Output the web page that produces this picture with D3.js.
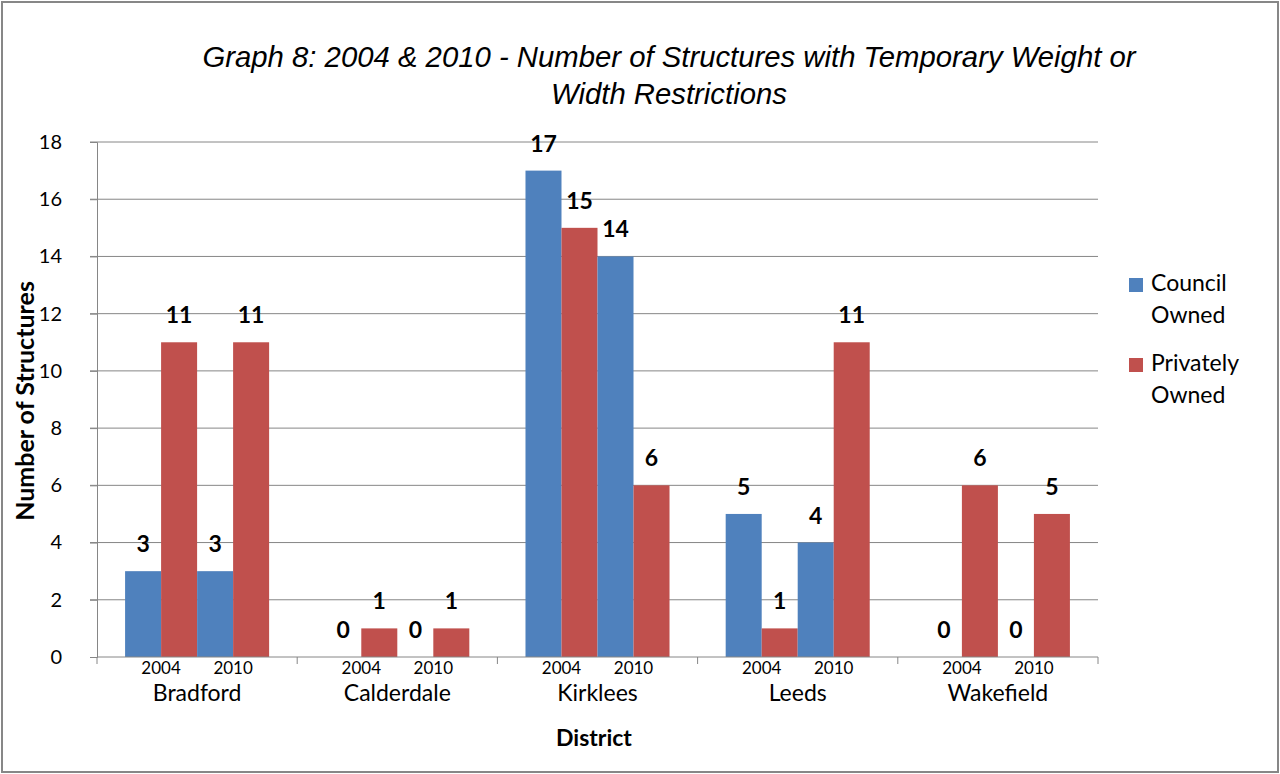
<!DOCTYPE html>
<html>
<head>
<meta charset="utf-8">
<script src="https://cdn.jsdelivr.net/npm/d3@7"></script>
<style>
  html, body { margin: 0; padding: 0; background: #fff; }
  svg { display: block; }
</style>
</head>
<body>
<svg id="chart" width="1280" height="774"></svg>
<script>
// Districts and survey years along the x axis
const districts = ["Bradford", "Calderdale", "Kirklees", "Leeds", "Wakefield"];
const years = ["2004", "2010"];
const seriesNames = ["Council Owned", "Privately Owned"];

// Number of structures per district
const council2004 = [3, 0, 17, 5, 0];
const private2004 = [11, 1, 15, 1, 6];
const council2010 = [3, 0, 14, 4, 0];
const private2010 = [11, 1, 6, 11, 5];

const yTicks = [0, 2, 4, 6, 8, 10, 12, 14, 16, 18];

const titleLines = [
  "Graph 8: 2004 & 2010 - Number of Structures with Temporary Weight or",
  "Width Restrictions"
];

const colors = { council: "#4F81BD", private: "#C0504D" };
const bodyFont = "Lato, 'Open Sans', sans-serif";

const svg = d3.select("#chart");
const W = 1280, H = 774;
const plot = { left: 97, right: 1098, top: 142, bottom: 657 };

// outer frame
svg.append("rect")
  .attr("x", 2).attr("y", 2).attr("width", W - 4).attr("height", H - 4)
  .attr("fill", "#fff").attr("stroke", "#878787").attr("stroke-width", 2);

// title
svg.append("g").selectAll("text").data(titleLines).join("text")
  .attr("x", 669).attr("y", (d, i) => 67 + i * 37)
  .attr("text-anchor", "middle")
  .attr("font-family", "'Liberation Sans', Arial, sans-serif")
  .attr("font-style", "italic")
  .attr("font-size", 29.3)
  .attr("fill", "#000")
  .text(d => d);

// scales
const y = d3.scaleLinear().domain([0, 18]).range([plot.bottom, plot.top]);
const x0 = d3.scaleBand().domain(districts).range([plot.left, plot.right]).padding(0);
const barKeys = ["c2004", "p2004", "c2010", "p2010"];
const x1 = d3.scaleBand().domain(barKeys).range([0, x0.bandwidth()])
  .paddingInner(0).paddingOuter(0.78);

// gridlines
const grid = svg.append("g");
grid.selectAll("line").data(yTicks.filter(t => t > 0)).join("line")
  .attr("x1", plot.left - 7).attr("x2", plot.right)
  .attr("y1", d => y(d)).attr("y2", d => y(d))
  .attr("stroke", "#868686").attr("stroke-width", 1);

// y axis
const yAxis = svg.append("g").attr("transform", `translate(${plot.left},0)`)
  .call(d3.axisLeft(y).tickValues(yTicks).tickSize(7).tickPadding(9).tickFormat(d3.format("d")));
yAxis.select(".domain").attr("stroke", "#868686");
yAxis.selectAll(".tick line").attr("stroke", "#868686");
yAxis.selectAll(".tick text")
  .attr("font-family", bodyFont).attr("font-size", 20).attr("fill", "#000")
  .attr("x", -35);

// bar records
const bars = [];
districts.forEach((d, i) => {
  bars.push({ district: d, key: "c2004", series: "council", value: council2004[i] });
  bars.push({ district: d, key: "p2004", series: "private", value: private2004[i] });
  bars.push({ district: d, key: "c2010", series: "council", value: council2010[i] });
  bars.push({ district: d, key: "p2010", series: "private", value: private2010[i] });
});

svg.append("g").selectAll("rect").data(bars).join("rect")
  .attr("x", d => x0(d.district) + x1(d.key))
  .attr("width", x1.bandwidth())
  .attr("y", d => y(d.value))
  .attr("height", d => y(0) - y(d.value))
  .attr("fill", d => colors[d.series]);

// value labels
svg.append("g").selectAll("text").data(bars).join("text")
  .attr("x", d => x0(d.district) + x1(d.key) + x1.bandwidth() / 2)
  .attr("y", d => y(d.value) - 19)
  .attr("text-anchor", "middle")
  .attr("font-family", bodyFont).attr("font-weight", "bold")
  .attr("font-size", 23).attr("fill", "#000")
  .text(d => d.value);

// x axis line and district separators
const xAxis = svg.append("g");
xAxis.append("line")
  .attr("x1", plot.left).attr("x2", plot.right)
  .attr("y1", plot.bottom).attr("y2", plot.bottom)
  .attr("stroke", "#868686");
const bounds = districts.map(d => x0(d)).concat([x0.range()[1]]);
xAxis.selectAll("line.sep").data(bounds).join("line").attr("class", "sep")
  .attr("x1", d => d).attr("x2", d => d)
  .attr("y1", plot.bottom).attr("y2", plot.bottom + 7)
  .attr("stroke", "#868686");

// year labels under each pair of bars
const yearLabels = [];
districts.forEach(d => years.forEach(yr => yearLabels.push({ district: d, year: yr })));
xAxis.selectAll("text.year").data(yearLabels).join("text").attr("class", "year")
  .attr("x", d => x0(d.district) + x1("c" + d.year) + x1.bandwidth())
  .attr("y", 674)
  .attr("text-anchor", "middle")
  .attr("font-family", bodyFont).attr("font-size", 17).attr("fill", "#000")
  .text(d => d.year);

// district labels
xAxis.selectAll("text.district").data(districts).join("text").attr("class", "district")
  .attr("x", d => x0(d) + x0.bandwidth() / 2)
  .attr("y", 701)
  .attr("text-anchor", "middle")
  .attr("font-family", bodyFont).attr("font-size", 23).attr("fill", "#000")
  .text(d => d);

// axis titles
svg.append("text")
  .attr("x", 594).attr("y", 746)
  .attr("text-anchor", "middle")
  .attr("font-family", bodyFont).attr("font-weight", "bold").attr("font-size", 23)
  .text("District");

svg.append("text")
  .attr("transform", `translate(34,401) rotate(-90)`)
  .attr("text-anchor", "middle")
  .attr("font-family", bodyFont).attr("font-weight", "bold").attr("font-size", 25)
  .text("Number of Structures");

// legend
const legend = svg.append("g");
const legendItems = [
  { series: "council", lines: seriesNames[0].split(" "), top: 276 },
  { series: "private", lines: seriesNames[1].split(" "), top: 356 }
];
legendItems.forEach(item => {
  legend.append("rect")
    .attr("x", 1129).attr("y", item.top + 2).attr("width", 14).attr("height", 14)
    .attr("fill", colors[item.series]);
  legend.selectAll(null).data(item.lines).join("text")
    .attr("x", 1151).attr("y", (d, i) => item.top + 15 + i * 32)
    .attr("font-family", bodyFont).attr("font-size", 23).attr("fill", "#000")
    .text(d => d);
});
</script>
</body>
</html>
